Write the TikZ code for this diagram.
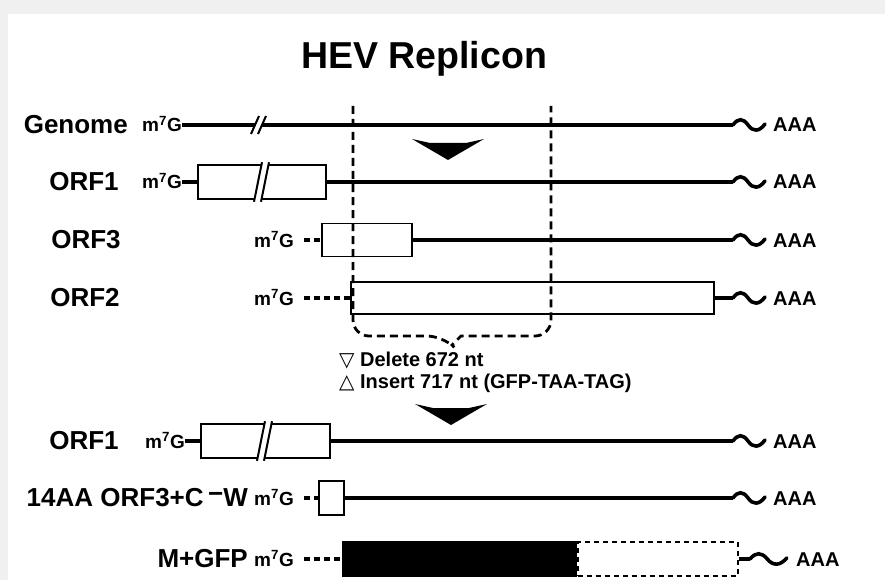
\documentclass[tikz,border=0pt]{standalone}
\usepackage{fontspec}
\setmainfont{Liberation Sans}
\newfontfamily\symfont{DejaVu Sans}
\usetikzlibrary{calc}

\newcommand{\mG}{m\textsuperscript{7}G}

\tikzset{
  rna/.style = {line width=3.4pt},
  capdash/.style = {line width=3.4pt, dash pattern=on 6pt off 4pt},
  orfbox/.style = {draw, line width=1.8pt, fill=white, inner sep=0pt, anchor=west},
  lbl/.style = {font=\fontsize{26}{28}\selectfont\bfseries, inner sep=0pt},
  capmark/.style = {font=\fontsize{19}{20}\selectfont\bfseries, inner sep=0pt, anchor=base east},
  polya/.style = {font=\fontsize{20}{22}\selectfont\bfseries, inner sep=0pt, anchor=base west},
  note/.style = {font=\fontsize{20}{22}\selectfont\bfseries, inner sep=0pt, anchor=west},
  cut/.style = {line width=2.8pt, dash pattern=on 8pt off 5pt},
  tail/.pic = {
    \draw[line width=3.6pt, line cap=round] (0,0) .. controls (5,-7) and (10,-7) .. (15,0)
      .. controls (20,7) and (26,7) .. (32,-1);
    \node[polya] at (40,7) {AAA};
  },
  brk/.pic = {
    \fill[white] (-7,9) -- (1,-9) -- (8,-9) -- (0,9) -- cycle;
    \draw[line width=2pt] (-7,9) -- (1,-9) (0,9) -- (8,-9);
  },
  downarrow/.pic = {
    \fill (-36,0) -- (-18,4) -- (18,4) -- (36,0) -- (0,21) -- cycle;
  },
}

\begin{document}
\begin{tikzpicture}[x=1pt, y=-1pt]
\useasboundingbox (0,0) rectangle (885,580);
\fill[black!6] (0,0) rectangle (885,14);
\fill[black!6] (0,0) rectangle (8,580);

\node[font=\fontsize{37.5}{40}\selectfont\bfseries] (title) at (424,59) {HEV Replicon};

%Genome
\node[lbl, anchor=east] (genome) at (128,125) {Genome};
\node[capmark] (c0) at (182,132) {\mG};
\coordinate (e0) at (733,125);
\draw[rna] (c0.east |- e0) -- (e0);
\pic at (258,125) {brk};
\pic at (e0) {tail};

%ORF1
\node[lbl] (orf1) at (84,182) {ORF1};
\node[capmark] (c1) at (182,189) {\mG};
\node[orfbox, minimum width=128pt, minimum height=34pt] (b1) at (197,182) {};
\coordinate (e1) at (733,182);
\draw[rna] (c1.east |- b1.west) -- (b1.west);
\draw[rna] (b1.east) -- (e1);
\pic[yscale=2.2] at (261,182) {brk};
\pic at (e1) {tail};

%ORF3
\node[lbl] (orf3) at (86,240) {ORF3};
\node[capmark] (c3) at (294,247) {\mG};
\node[orfbox, minimum width=90pt, minimum height=33pt] (b3) at (321,240) {};
\coordinate (e3) at (733,240);
\draw[capdash] ($(c3.east |- b3.west)+(10,0)$) -- (b3.west);
\draw[rna] (b3.east) -- (e3);
\pic at (e3) {tail};

%ORF2
\node[lbl] (orf2) at (85,298) {ORF2};
\node[capmark] (c2) at (294,305) {\mG};
\node[orfbox, minimum width=363pt, minimum height=32pt] (b2) at (350,298) {};
\coordinate (e2) at (733,298);
\draw[capdash] ($(c2.east |- b2.west)+(10,0)$) -- (b2.west);
\draw[rna] (b2.east) -- (e2);
\pic at (e2) {tail};

%Deleted region
\draw[cut] (353,106) [rounded corners=16pt] -- (353,336) -- (443,336)
  [sharp corners] -- (452,345) -- (461,336)
  [rounded corners=16pt] -- (551,336) -- (551,106);

\pic at (448,139) {downarrow};
\node[note] (del) at (339,360) {{\symfont ▽} Delete 672 nt};
\node[note] (ins) at (339,383) {{\symfont △} Insert 717 nt (GFP-TAA-TAG)};
\pic at (451,404) {downarrow};

%Replicon ORF1
\node[lbl] (rorf1) at (84,441) {ORF1};
\node[capmark] (r1) at (185,448) {\mG};
\node[orfbox, minimum width=129pt, minimum height=34pt] (rb1) at (200,441) {};
\coordinate (f1) at (733,441);
\draw[rna] (r1.east |- rb1.west) -- (rb1.west);
\draw[rna] (rb1.east) -- (f1);
\pic[yscale=2.2] at (264,441) {brk};
\pic at (f1) {tail};

%Replicon ORF3
\node[lbl, anchor=east] (rorf3) at (248,498) {14AA ORF3+C\,\raisebox{0.18em}{−}W};
\node[capmark] (r3) at (294,505) {\mG};
\node[orfbox, minimum width=25pt, minimum height=34pt] (rb3) at (318,498) {};
\coordinate (f3) at (733,498);
\draw[capdash] ($(r3.east |- rb3.west)+(10,0)$) -- (rb3.west);
\draw[rna] (rb3.east) -- (f3);
\pic at (f3) {tail};

%M+GFP
\node[lbl, anchor=east] (mgfp) at (248,559) {M+GFP};
\node[capmark] (r2) at (294,566) {\mG};
\node[orfbox, fill=black, minimum width=233pt, minimum height=35pt] (gfp) at (342,559) {};
\node[orfbox, dash pattern=on 5pt off 4pt, minimum width=160pt, minimum height=34pt] (rest) at (gfp.east) {};
\coordinate (f2) at (750,559);
\draw[capdash] ($(r2.east |- gfp.west)+(10,0)$) -- (gfp.west);
\draw[rna] (rest.east) -- (f2);
\pic[xscale=1.15] at (f2) {tail};
\end{tikzpicture}
\end{document}
